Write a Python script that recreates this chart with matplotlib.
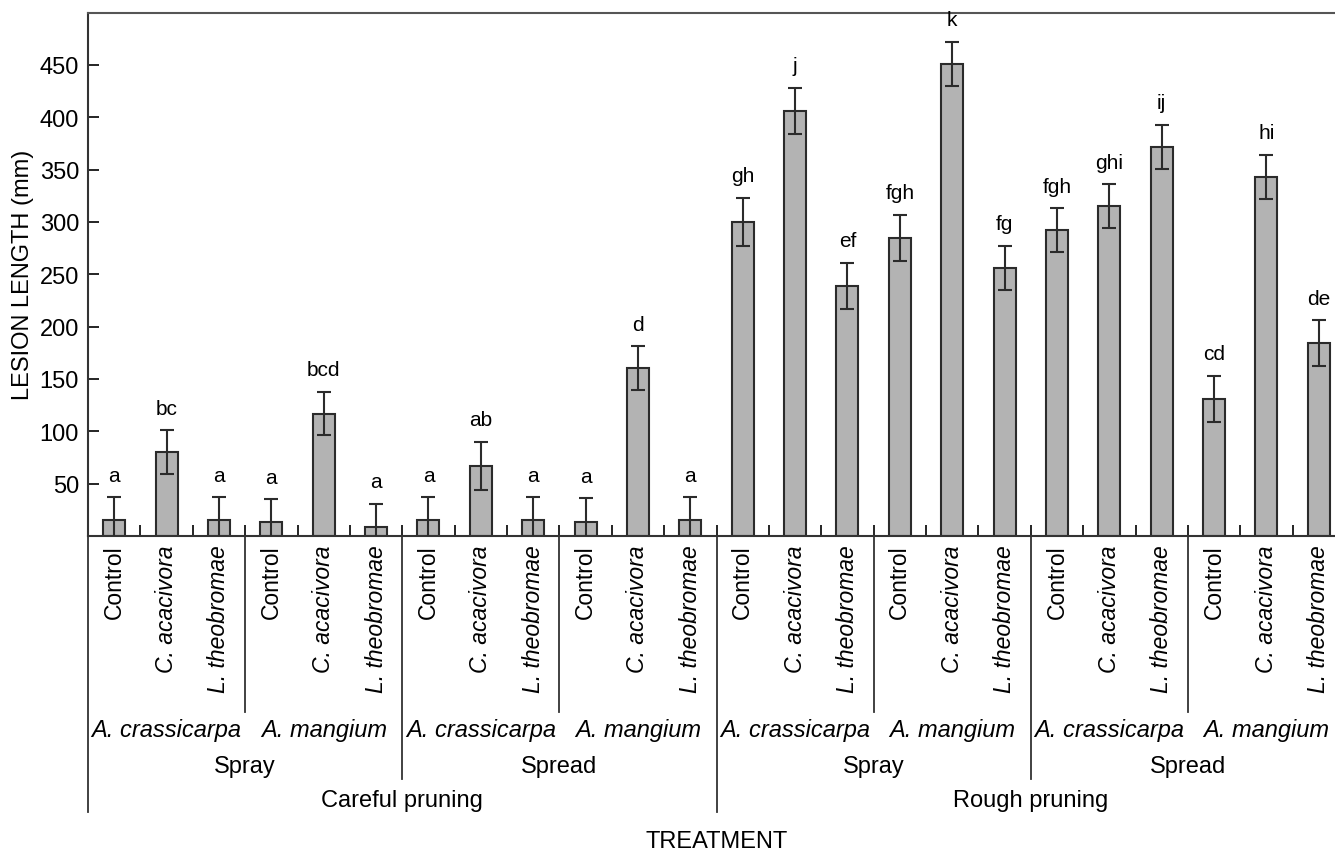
import numpy as np
import matplotlib
matplotlib.use("Agg")
import matplotlib.pyplot as plt
import matplotlib.transforms as mtransforms

plt.rcParams['font.family'] = ['Liberation Sans', 'DejaVu Sans']

# data
pathogens = ["Control", "C. acacivora", "L. theobromae"] * 8
species = ["A. crassicarpa", "A. mangium"] * 4
methods = ["Spray", "Spread", "Spray", "Spread"]
pruning = ["Careful pruning", "Rough pruning"]

lesion = [15, 80, 15, 13, 117, 9,
          15, 67, 15, 13, 160, 15,
          300, 406, 239, 285, 451, 256,
          292, 315, 372, 131, 343, 184]
err = [22, 21, 22, 22, 21, 22,
       22, 23, 22, 23, 21, 22,
       23, 22, 22, 22, 21, 21,
       21, 21, 21, 22, 21, 22]
letters = ["a", "bc", "a", "a", "bcd", "a",
           "a", "ab", "a", "a", "d", "a",
           "gh", "j", "ef", "fgh", "k", "fg",
           "fgh", "ghi", "ij", "cd", "hi", "de"]

W, H = 1335, 854
fig = plt.figure(figsize=(W / 100, H / 100), dpi=100)
# axes runs a little past the right edge (cropped like the original)
left, right, top, bot = 88, 1345, 13.5, 537
ax = fig.add_axes([left / W, 1 - bot / H, (right - left) / W, (bot - top) / H])

x = np.arange(len(lesion))
ax.bar(x, lesion, width=0.42, color="#b3b3b3", edgecolor="#2b2b2b", linewidth=1.5, zorder=2)
ax.errorbar(x, lesion, yerr=err, fmt="none", ecolor="#2b2b2b", elinewidth=1.5,
            capsize=5, capthick=1.5, zorder=3)
for xi, v, e, t in zip(x, lesion, err, letters):
    ax.text(xi, v + e + 12, t, ha="center", va="bottom", fontsize=15)

ax.set_xlim(-0.5, len(lesion) - 0.5)
ax.set_ylim(0, 500)
ax.set_yticks([50, 100, 150, 200, 250, 300, 350, 400, 450])
ax.tick_params(axis="y", direction="in", length=8, width=1.2, labelsize=17, pad=6.5)

ax.set_xticks(x)
ax.set_xticklabels(pathogens, rotation=90, fontsize=16.5, va="top")
for lab in ax.get_xticklabels():
    if lab.get_text() != "Control":
        lab.set_style("italic")
ax.tick_params(axis="x", which="major", length=0, pad=6)
ax.set_xticks(np.arange(0.5, len(lesion) - 1, 1), minor=True)
ax.tick_params(axis="x", which="minor", direction="in", length=8, width=1.2)

ax.spines["right"].set_visible(False)
ax.spines["top"].set_color("#555555")
for s in ["top", "left", "bottom"]:
    ax.spines[s].set_linewidth(1.5)
ax.spines["left"].set_color("#333333")
ax.spines["bottom"].set_color("#333333")

ax.set_ylabel("LESION LENGTH (mm)", fontsize=17, labelpad=4)

# grouped labels under the axis
trans = mtransforms.blended_transform_factory(ax.transData, ax.transAxes)
axh = bot - top

def yfrac(py):
    return -(py - bot) / axh

for i, sp in enumerate(species):
    ax.text(3 * i + 1, yfrac(731), sp, transform=trans, ha="center", va="center",
            fontsize=17, style="italic")
for i, m in enumerate(methods):
    ax.text(6 * i + 2.5, yfrac(767), m, transform=trans, ha="center", va="center", fontsize=17)
for i, p in enumerate(pruning):
    ax.text(12 * i + 5.5, yfrac(801), p, transform=trans, ha="center", va="center", fontsize=17)
ax.text(11.5, yfrac(842), "TREATMENT", transform=trans, ha="center", va="center", fontsize=17)

# separator lines
for b in range(0, 24, 3):
    if b % 12 == 0:
        yend = 813
    elif b % 6 == 0:
        yend = 780
    else:
        yend = 713
    ax.plot([b - 0.5, b - 0.5], [0, yfrac(yend)], transform=trans, color="#333333",
            linewidth=1.3, clip_on=False)

fig.savefig("out.png", dpi=100)
